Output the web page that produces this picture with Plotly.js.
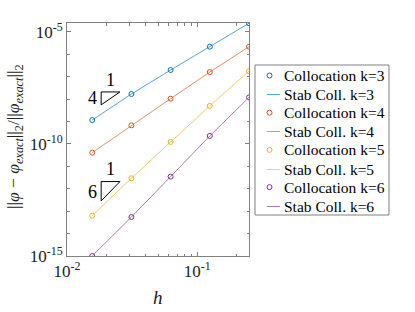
<!DOCTYPE html>
<html>
<head>
<meta charset="utf-8">
<script src="https://cdn.plot.ly/plotly-3.0.1.min.js"></script>
<style>html,body{margin:0;padding:0;background:#fff;}#chart{width:415px;height:312px;}</style>
</head>
<body>
<div id="chart"></div>
<script>
// ---- data ----
const h = [0.015625, 0.03125, 0.0625, 0.125, 0.25];
const errK3 = [1.17e-9, 1.7e-8, 2.0e-7, 2.2e-6, 2.45e-5];
const errK4 = [4.1e-11, 6.8e-10, 1.05e-8, 1.62e-7, 2.2e-6];
const errK5 = [6.3e-14, 2.95e-12, 1.23e-10, 5.0e-9, 1.78e-7];
const errK6 = [1.0e-15, 5.5e-14, 3.5e-12, 2.3e-10, 1.2e-8];
const seriesNames = ["k=3", "k=4", "k=5", "k=6"];
const colors = ["#0072BD", "#D95319", "#EDB120", "#7E2F8E"];
const lineColors = ["#5AA3D6", "#E8906A", "#F4CC6C", "#AE7CB8"];
// slope triangles: [x-left, x-right], top y, slope
const triX = [0.0183, 0.0255];
const tri1Top = 2.1e-8, tri1Slope = 4;
const tri2Top = 2.1e-12, tri2Slope = 6;
const yTickVals = [1e-15, 1e-10, 1e-5];
const yTickText = ["10<sup>-15</sup>", "10<sup>-10</sup>", "10<sup>-5</sup>"];
const xTickVals = [0.01, 0.1];
const xTickText = ["10<sup>-2</sup>", "10<sup>-1</sup>"];
const xMinor = [0.02,0.03,0.04,0.05,0.06,0.07,0.08,0.09,0.2];
const yMinor = [1e-14,1e-13,1e-12,1e-11,1e-9,1e-8,1e-7,1e-6];

const W = 415, H = 312, L = 67, R = 249, T = 23, B = 256;
const px = v => (v - L) / (R - L);
const py = v => (B - v) / (B - T);

const errs = [errK3, errK4, errK5, errK6];
const traces = [];
errs.forEach((e, i) => {
  traces.push({x: h, y: e, mode: 'lines', name: 'Stab Coll. ' + seriesNames[i],
    line: {width: 1, color: lineColors[i]}, showlegend: false});
  traces.push({x: h, y: e, mode: 'markers', name: 'Collocation ' + seriesNames[i],
    marker: {symbol: 'circle-open', size: 5, color: colors[i], line: {width: 1, color: colors[i]}}, showlegend: false});
});
function tri(top, slope) {
  const r = Math.log10(triX[1] / triX[0]);
  const bot = top / Math.pow(10, slope * r);
  return {x: [triX[0], triX[1], triX[0], triX[0]], y: [top, top, bot, top],
    mode: 'lines', line: {color: '#000', width: 1}, showlegend: false, hoverinfo: 'skip'};
}
traces.push(tri(tri1Top, tri1Slope));
traces.push(tri(tri2Top, tri2Slope));

const lx = Math.log10(Math.sqrt(triX[0]*triX[1]));
const serif = 'Liberation Serif, Times New Roman, serif';
const ann = [
  {x: lx, y: Math.log10(tri1Top) + 0.54, text: '1'},
  {x: Math.log10(triX[0]) - 0.07, y: Math.log10(tri1Top) - 0.27, text: String(tri1Slope)},
  {x: lx, y: Math.log10(tri2Top) + 0.54, text: '1'},
  {x: Math.log10(triX[0]) - 0.07, y: Math.log10(tri2Top) - 0.45, text: String(tri2Slope)}
].map(a => Object.assign({xref: 'x', yref: 'y', showarrow: false, xanchor: 'center', yanchor: 'middle',
  font: {family: serif, size: 18, color: '#000'}}, a));
ann.push({xref: 'paper', yref: 'paper', x: px(14), y: py(136), textangle: -90, showarrow: false,
  xanchor: 'center', yanchor: 'middle', font: {family: serif, size: 17.5, color: '#222'},
  text: '||<i>φ</i> − <i>φ</i><sub><i>exact</i></sub>||<sub>2</sub>/||<i>φ</i><sub><i>exact</i></sub>||<sub>2</sub>'});
ann.push({xref: 'paper', yref: 'paper', x: 0.5, y: py(297), showarrow: false,
  xanchor: 'center', yanchor: 'middle', font: {family: serif, size: 19, color: '#222'}, text: '<i>h</i>'});

// ---- manual legend (compact, MATLAB-style) ----
const shapes = [];
shapes.push({type: 'rect', xref: 'paper', yref: 'paper', x0: px(255), x1: px(389), y0: py(215), y1: py(65),
  line: {color: '#808080', width: 1}, fillcolor: '#fff', layer: 'above'});
const rowY0 = 75.5, rowStep = 18.6;
let row = 0;
seriesNames.forEach((s, i) => {
  const yM = rowY0 + rowStep * row;
  shapes.push({type: 'circle', xref: 'paper', yref: 'paper', xsizemode: 'pixel', ysizemode: 'pixel',
    xanchor: px(269.5), yanchor: py(yM), x0: -2.5, x1: 2.5, y0: -2.5, y1: 2.5,
    line: {color: colors[i], width: 1}, layer: 'above'});
  ann.push({xref: 'paper', yref: 'paper', x: px(282), y: py(yM), xanchor: 'left', yanchor: 'middle',
    showarrow: false, text: 'Collocation ' + s, font: {family: serif, size: 15.5, color: '#000'}});
  row++;
  const yL = Math.round(rowY0 + rowStep * row) + 0.5;
  shapes.push({type: 'line', xref: 'paper', yref: 'paper', x0: px(267), x1: px(280), y0: py(yL), y1: py(yL),
    line: {color: lineColors[i], width: 1}, layer: 'above'});
  ann.push({xref: 'paper', yref: 'paper', x: px(282), y: py(yL), xanchor: 'left', yanchor: 'middle',
    showarrow: false, text: 'Stab Coll. ' + s, font: {family: serif, size: 15.5, color: '#000'}});
  row++;
});

const axisCommon = {showline: true, linecolor: '#808080', linewidth: 1, mirror: 'allticks',
  ticks: 'inside', ticklen: 4, tickcolor: '#808080', showgrid: false, zeroline: false,
  tickfont: {family: serif, size: 17, color: '#222'}};
const layout = {
  width: W, height: H,
  margin: {l: L, r: W - R, t: T, b: H - B},
  paper_bgcolor: '#fff', plot_bgcolor: '#fff',
  xaxis: Object.assign({}, axisCommon, {type: 'log', range: [-2, Math.log10(0.25)],
    tickmode: 'array', tickvals: xTickVals, ticktext: xTickText,
    minor: {tickmode: 'array', tickvals: xMinor, ticks: 'inside', ticklen: 2.5, tickcolor: '#808080'}}),
  yaxis: Object.assign({}, axisCommon, {type: 'log', range: [-15, -4.6],
    tickmode: 'array', tickvals: yTickVals, ticktext: yTickText,
    minor: {tickmode: 'array', tickvals: yMinor, ticks: 'inside', ticklen: 2.5, tickcolor: '#808080'}}),
  annotations: ann,
  shapes: shapes,
  showlegend: false
};
Plotly.newPlot('chart', traces, layout, {displayModeBar: false, staticPlot: true});
</script>
</body>
</html>
